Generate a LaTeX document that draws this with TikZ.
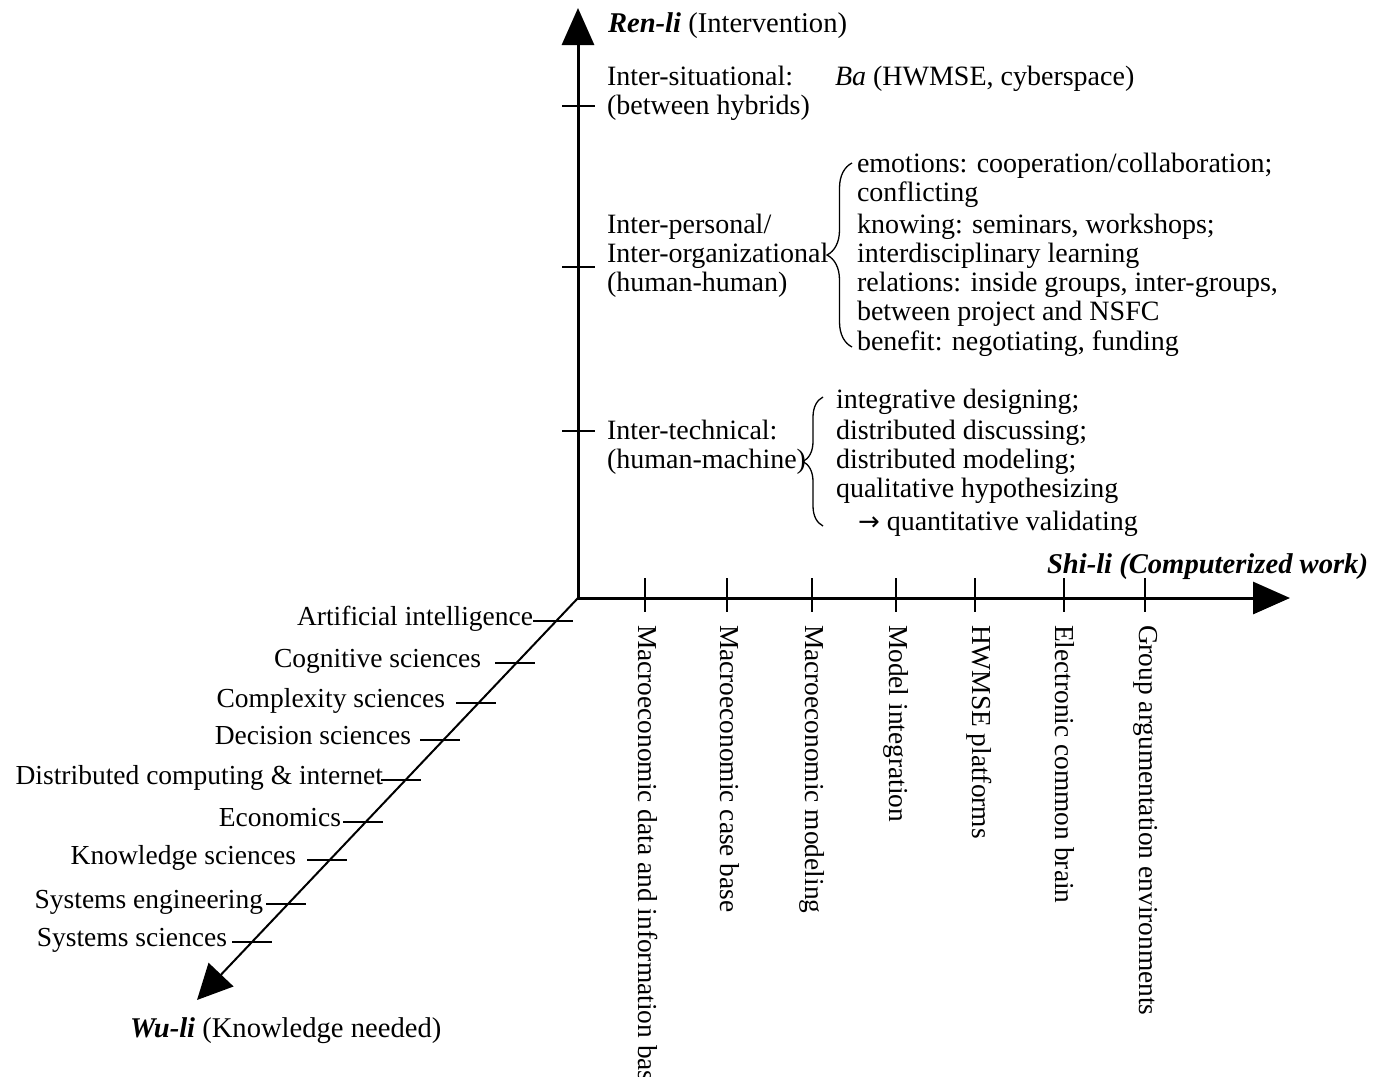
\documentclass[tikz,border=0pt]{standalone}
\usepackage{fontspec}
\setmainfont{Liberation Serif}
\newfontfamily\symfont{DejaVu Sans}
\usetikzlibrary{arrows.meta,decorations.pathreplacing}
\begin{document}
\begin{tikzpicture}[x=1pt,y=-1pt,
  lbl/.style={font=\fontsize{28}{30}\selectfont, inner sep=0pt, outer sep=0pt, anchor=base west},
  lble/.style={lbl, font=\fontsize{27.5}{30}\selectfont, anchor=base east},
  ttl/.style={lbl, font=\fontsize{28.6}{30}\selectfont},
  vlbl/.style={lbl, font=\fontsize{27.4}{30}\selectfont, rotate=-90, anchor=base west},
  axisline/.style={line width=3pt, -{Triangle[length=37pt,width=32pt]}},
  tickmark/.style={line width=2.4pt},
  curly/.style={decorate, decoration={brace, amplitude=#1}, line width=1.3pt},
]
\fill[white] (0,0) rectangle (1375,1076);
\useasboundingbox (0,0) rectangle (1375,1076);

% axes
\coordinate (O) at (578,598);
\coordinate (Overt) at (578,599.5);
\coordinate (Ohor) at (576.5,598);
\coordinate (ytip) at (578,8);
\coordinate (xtip) at (1290,598);
\coordinate (ztip) at (197,1000);
\draw[axisline] (Overt) -- (ytip);
\draw[axisline] (Ohor) -- (xtip);
\draw[line width=2pt, -{Triangle[length=35pt,width=34pt]}] (O) -- (ztip);

% ticks on the Ren-li axis
\foreach \ty in {106,267,431} \draw[tickmark] (562,\ty) -- (595,\ty);
% ticks on the Shi-li axis
\foreach \tx in {645,727,812,896,975,1064,1145} \draw[tickmark] (\tx,578) -- (\tx,612);
% ticks on the Wu-li axis
\foreach \tx/\ty in {533/621,495/663,456/703,420/740,381/780,343/822,307/860,266/904,232/942}
  \draw[tickmark] (\tx,\ty) -- ++(40,0);

% axis titles
\node[ttl] (renli) at (608,32) {\textbf{\textit{Ren-li}} (Intervention)};
\node[ttl, anchor=base east] (shili) at (1368,573) {\textbf{\textit{Shi-li (Computerized work)}}};
\node[ttl] (wuli) at (130,1037) {\textbf{\textit{Wu-li}} (Knowledge needed)};

% Ren-li levels
\node[lbl] (sit1) at (607,85) {Inter-situational:};
\node[lbl] (sit2) at (607,114) {(between hybrids)};
\node[lbl] (ba) at (835,85) {\textit{Ba} (HWMSE, cyberspace)};

\node[lbl] (per1) at (607,233) {Inter-personal/};
\node[lbl] (per2) at (607,262) {Inter-organizational};
\node[lbl] (per3) at (607,291) {(human-human)};

\draw[curly=25pt] (852,347) -- (852,163);
\node[lbl] (hh1) at (857,172) {emotions: cooperation/collaboration;};
\node[lbl] (hh2) at (857,201) {conflicting};
\node[lbl] (hh3) at (857,233) {knowing: seminars, workshops;};
\node[lbl] (hh4) at (857,262) {interdisciplinary learning};
\node[lbl] (hh5) at (857,291) {relations: inside groups, inter-groups,};
\node[lbl] (hh6) at (857,320) {between project and NSFC};
\node[lbl] (hh7) at (857,350) {benefit: negotiating, funding};

\node[lbl] (tec1) at (607,439) {Inter-technical:};
\node[lbl] (tec2) at (607,468) {(human-machine)};

\draw[curly=20pt] (823,526) -- (823,397);
\node[lbl] (hm1) at (836,408) {integrative designing;};
\node[lbl] (hm2) at (836,439) {distributed discussing;};
\node[lbl] (hm3) at (836,468) {distributed modeling;};
\node[lbl] (hm4) at (836,497) {qualitative hypothesizing};
\node[lbl] (hm5) at (858,530) {{\symfont\fontsize{26}{30}\selectfont →} quantitative validating};

% Wu-li knowledge fields
\node[lble] (k1) at (533,625) {Artificial intelligence};
\node[lble] (k2) at (481,667) {Cognitive sciences};
\node[lble] (k3) at (445,707) {Complexity sciences};
\node[lble] (k4) at (411,744) {Decision sciences};
\node[lble] (k5) at (383,784) {Distributed computing \& internet};
\node[lble] (k6) at (341,826) {Economics};
\node[lble] (k7) at (296,864) {Knowledge sciences};
\node[lble] (k8) at (263,908) {Systems engineering};
\node[lble] (k9) at (227,946) {Systems sciences};

% Shi-li computerized work
\node[vlbl] (c1) at (638,625) {Macroeconomic data and information base};
\node[vlbl] (c2) at (720,625) {Macroeconomic case base};
\node[vlbl] (c3) at (805,625) {Macroeconomic modeling};
\node[vlbl] (c4) at (889,625) {Model integration};
\node[vlbl] (c5) at (972,625) {HWMSE platforms};
\node[vlbl] (c6) at (1055,625) {Electronic common brain};
\node[vlbl] (c7) at (1139,625) {Group argumentation environments};
\end{tikzpicture}
\end{document}
